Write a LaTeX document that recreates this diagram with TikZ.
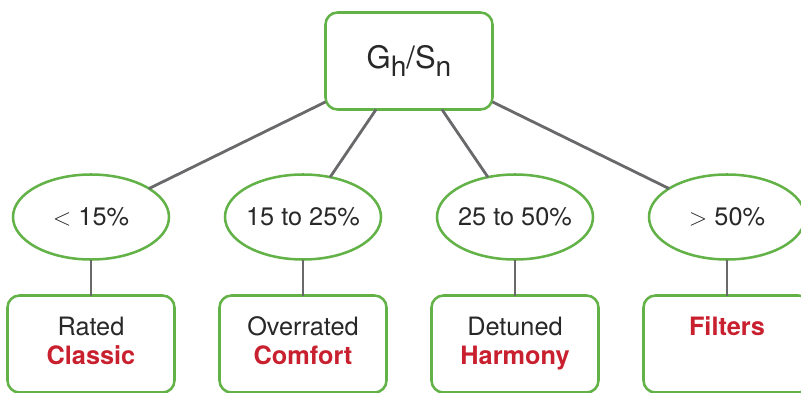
\documentclass[tikz,border=0pt]{standalone}
\usepackage{fontspec}
\setmainfont{TeX Gyre Heros}
\usetikzlibrary{positioning,shapes.geometric}
\definecolor{boxgreen}{RGB}{98,178,72}
\definecolor{labelred}{RGB}{200,32,46}
\definecolor{linegray}{RGB}{105,105,108}
\definecolor{textgray}{RGB}{40,40,40}

\begin{document}
\begin{tikzpicture}
[node distance = 1cm, auto, font=\fontsize{18}{21}\selectfont, text=textgray,
% STYLES
% The root style is used for the ratio at the top
root/.style={rectangle, rounded corners=0.3cm, draw=boxgreen, line width=1.8pt, outer sep=0pt, minimum width=4.175cm, minimum height=2.425cm, font=\fontsize{22}{25}\selectfont},
% The band style is used for the percentage bands
band/.style={ellipse, draw=boxgreen, line width=1.8pt, outer sep=0pt, minimum width=3.9cm, minimum height=2.125cm, inner xsep=-12pt, inner ysep=0pt},
% The grade style is used for the result of each band
grade/.style={rectangle, rounded corners=0.3cm, draw=boxgreen, line width=1.8pt, outer sep=0pt, minimum width=4.175cm, minimum height=2.425cm, align=center},
link/.style={draw=linegray, line width=2pt}]

\useasboundingbox (0,0) rectangle (20.025,9.8);

% Draw ratio
\node [root] (ratio) at (10.225,8.275) {G\raisebox{-0.5ex}{\fontsize{20}{22}\selectfont h}/S\raisebox{-0.5ex}{\fontsize{20}{22}\selectfont n}};

% Draw bands
\node [band] (low) at (2.275,4.375) {$<$ 15\%};
\node [band, right=1.4cm of low] (mid) {15 to 25\%};
\node [band, right=1.4cm of mid] (high) {25 to 50\%};
\node [band, right=1.4cm of high] (over) {$>$ 50\%};

% Draw grades
\node [grade, below=0.9cm of low] (rated) {Rated\strut\\{\color{labelred}\bfseries Classic}\strut};
\node [grade, below=0.9cm of mid] (overrated) {Overrated\strut\\{\color{labelred}\bfseries Comfort}\strut};
\node [grade, below=0.9cm of high] (detuned) {Detuned\strut\\{\color{labelred}\bfseries Harmony}\strut};
\node [grade, below=0.9cm of over] (filters) {{\color{labelred}\bfseries Filters}\strut\\\strut};

% Draw the links
\path[link]
(ratio) edge (low)
(ratio) edge (mid)
(ratio) edge (high)
(ratio) edge (over);

\path[link]
(low) edge (rated)
(mid) edge (overrated)
(high) edge (detuned)
(over) edge (filters);

\end{tikzpicture}
\end{document}
